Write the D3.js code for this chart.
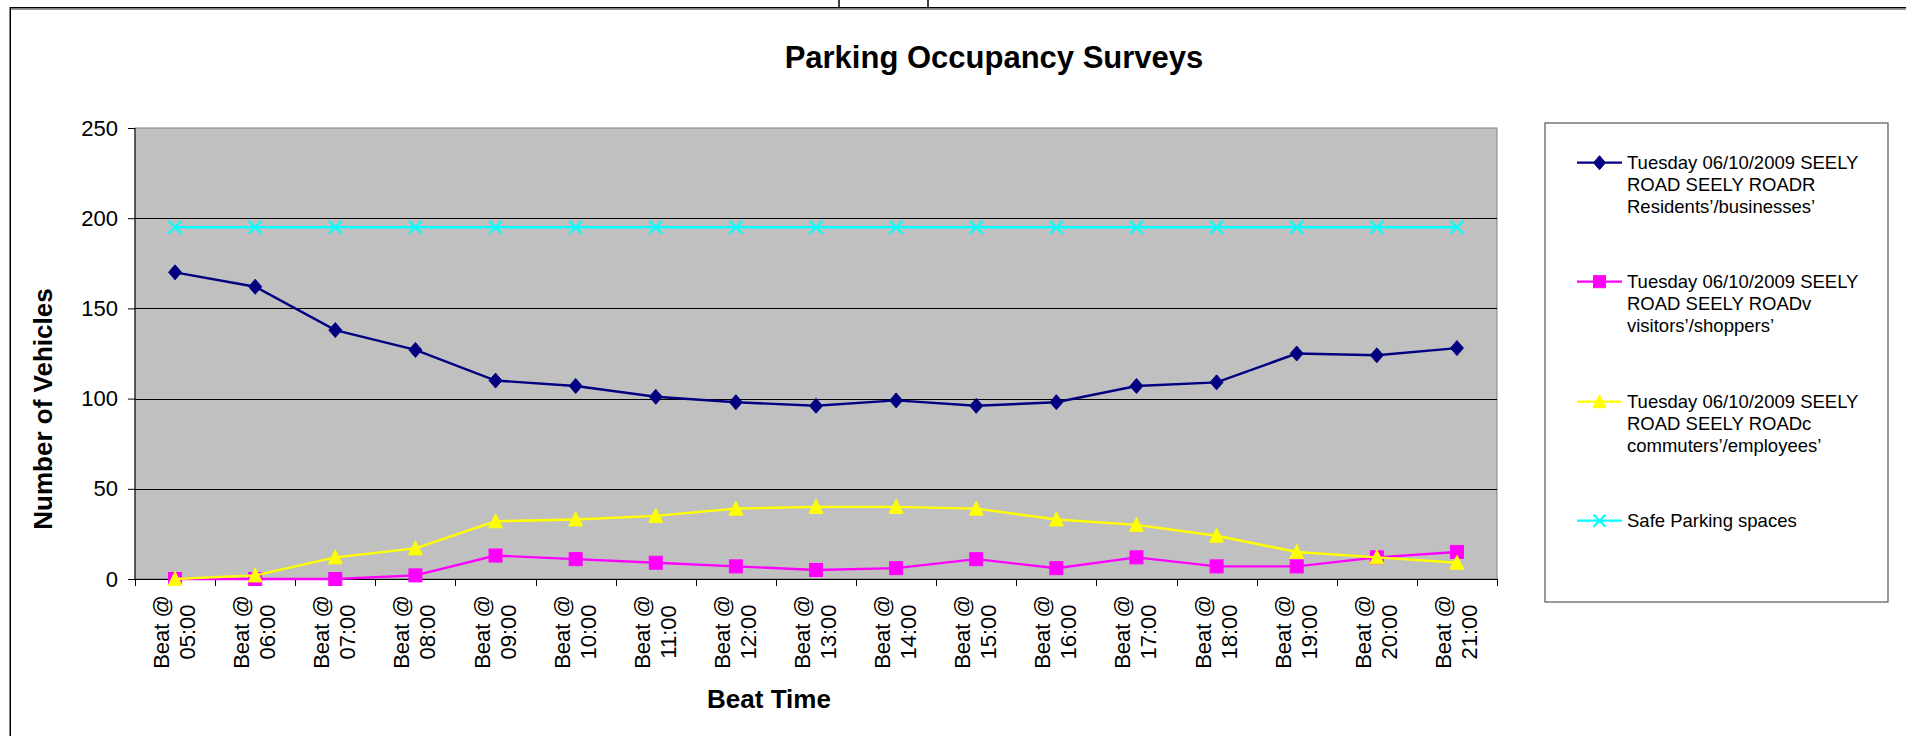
<!DOCTYPE html>
<html>
<head>
<meta charset="utf-8">
<script src="https://cdn.jsdelivr.net/npm/d3@7"></script>
<style>
  html, body { margin: 0; padding: 0; background: #ffffff; }
  svg { display: block; font-family: "Liberation Sans", Arial, sans-serif; }
</style>
</head>
<body>
<svg id="chart" width="1906" height="736"></svg>
<script>
// ---- data ----
const categories = ["Beat @ 05:00","Beat @ 06:00","Beat @ 07:00","Beat @ 08:00","Beat @ 09:00",
  "Beat @ 10:00","Beat @ 11:00","Beat @ 12:00","Beat @ 13:00","Beat @ 14:00","Beat @ 15:00",
  "Beat @ 16:00","Beat @ 17:00","Beat @ 18:00","Beat @ 19:00","Beat @ 20:00","Beat @ 21:00"];
const residents = [170,162,138,127,110,107,101,98,96,99,96,98,107,109,125,124,128];
const visitors  = [0,0,0,2,13,11,9,7,5,6,11,6,12,7,7,12,15];
const commuters = [0,2,12,17,32,33,35,39,40,40,39,33,30,24,15,12,9];
const safeSpaces = [195,195,195,195,195,195,195,195,195,195,195,195,195,195,195,195,195];
const yTicks = [0,50,100,150,200,250];
const seriesNames = [
  ["Tuesday 06/10/2009 SEELY","ROAD SEELY ROADR","Residents\u2019/businesses\u2019"],
  ["Tuesday 06/10/2009 SEELY","ROAD SEELY ROADv","visitors\u2019/shoppers\u2019"],
  ["Tuesday 06/10/2009 SEELY","ROAD SEELY ROADc","commuters\u2019/employees\u2019"],
  ["Safe Parking spaces"]
];
const seriesColors = ["#000080","#FF00FF","#FFFF00","#00FFFF"];
const seriesMarkers = ["diamond","square","triangle","x"];
const chartTitle = "Parking Occupancy Surveys";
const xTitle = "Beat Time";
const yTitle = "Number of Vehicles";

const series = [residents, visitors, commuters, safeSpaces];

const svg = d3.select("#chart");

// outer frame (partially off-screen)
svg.append("line").attr("x1",839).attr("x2",839).attr("y1",0).attr("y2",8).attr("stroke","#000").attr("stroke-width",1.5);
svg.append("line").attr("x1",928).attr("x2",928).attr("y1",0).attr("y2",8).attr("stroke","#000").attr("stroke-width",1.5);
svg.append("line").attr("x1",10).attr("x2",1906).attr("y1",7.75).attr("y2",7.75).attr("stroke","#000").attr("stroke-width",1.5);
svg.append("line").attr("x1",10).attr("x2",1906).attr("y1",9.5).attr("y2",9.5).attr("stroke","#999").attr("stroke-width",1);
svg.append("line").attr("x1",10.25).attr("x2",10.25).attr("y1",7).attr("y2",736).attr("stroke","#000").attr("stroke-width",1.5);

const plot = {left:135, right:1497, top:128, bottom:579};

const x = d3.scaleBand().domain(categories).range([plot.left, plot.right]).padding(0);
const y = d3.scaleLinear().domain([0,250]).range([plot.bottom, plot.top]);
const cx = c => x(c) + x.bandwidth()/2;

// plot background
svg.append("rect").attr("x",plot.left).attr("y",plot.top)
  .attr("width",plot.right-plot.left).attr("height",plot.bottom-plot.top)
  .attr("fill","#C0C0C0").attr("stroke","#808080").attr("stroke-width",1);

// gridlines
svg.append("g").selectAll("line").data(yTicks.filter(t => t>0 && t<250)).join("line")
  .attr("x1",plot.left).attr("x2",plot.right)
  .attr("y1",d => Math.round(y(d))+0.5).attr("y2",d => Math.round(y(d))+0.5)
  .attr("stroke","#000").attr("stroke-width",1);

// y axis
const yAxis = d3.axisLeft(y).tickValues(yTicks).tickSize(7).tickPadding(10);
const gy = svg.append("g").attr("transform",`translate(${plot.left},0)`).call(yAxis);
gy.select(".domain").attr("stroke","#000").attr("d",`M-0,${plot.top}V${plot.bottom}`);
gy.selectAll(".tick line").attr("stroke","#000");
gy.selectAll(".tick text").attr("font-size",22).attr("fill","#000")
  .attr("font-family","'Liberation Sans', Arial, sans-serif");

// x axis line and ticks at band boundaries
svg.append("line").attr("x1",plot.left).attr("x2",plot.right)
  .attr("y1",plot.bottom+0.5).attr("y2",plot.bottom+0.5).attr("stroke","#000").attr("stroke-width",1.2);
const bounds = categories.map(c => x(c)).concat([x(categories[categories.length-1]) + x.bandwidth()]);
svg.append("g").selectAll("line").data(bounds).join("line")
  .attr("x1",d => Math.round(d)+0.5).attr("x2",d => Math.round(d)+0.5)
  .attr("y1",plot.bottom).attr("y2",plot.bottom+7).attr("stroke","#000");

// category labels (rotated, two lines)
const catG = svg.append("g").selectAll("text").data(categories).join("text")
  .attr("transform",d => `translate(${cx(d)},632) rotate(-90)`)
  .attr("text-anchor","middle").attr("font-size",22).attr("fill","#000");
catG.each(function(d){
  const i = d.lastIndexOf(" ");
  const parts = [d.slice(0,i), d.slice(i+1)];
  const t = d3.select(this);
  t.append("tspan").attr("x",0).attr("y",-6).text(parts[0]);
  t.append("tspan").attr("x",0).attr("y",20).text(parts[1]);
});

// titles
svg.append("text").attr("x",994).attr("y",68).attr("text-anchor","middle")
  .attr("font-size",31).attr("font-weight","bold").text(chartTitle);
svg.append("text").attr("x",769).attr("y",708).attr("text-anchor","middle")
  .attr("font-size",26).attr("font-weight","bold").text(xTitle);
svg.append("text").attr("transform","translate(52,409) rotate(-90)").attr("text-anchor","middle")
  .attr("font-size",26).attr("font-weight","bold").text(yTitle);

// markers
function drawMarker(g, type, color, px, py, s) {
  const h = s/2;
  if (type === "diamond") {
    g.append("path").attr("d",`M${px},${py-h-1}L${px+h},${py}L${px},${py+h+1}L${px-h},${py}Z`)
      .attr("fill",color).attr("stroke",color).attr("stroke-width",1);
  } else if (type === "square") {
    g.append("rect").attr("x",px-h).attr("y",py-h).attr("width",s).attr("height",s)
      .attr("fill",color).attr("stroke",color).attr("stroke-width",1);
  } else if (type === "triangle") {
    g.append("path").attr("d",`M${px},${py-h-1}L${px+h+0.5},${py+h}L${px-h-0.5},${py+h}Z`)
      .attr("fill",color).attr("stroke",color).attr("stroke-width",1);
  } else {
    g.append("path").attr("d",`M${px-h},${py-h}L${px+h},${py+h}M${px+h},${py-h}L${px-h},${py+h}`)
      .attr("stroke",color).attr("stroke-width",2.2).attr("fill","none");
  }
}

const line = d3.line().x((d,i) => cx(categories[i])).y(d => y(d));
// draw order: safe spaces, residents, visitors, commuters
const order = [3,0,1,2];
order.forEach(si => {
  const g = svg.append("g");
  g.append("path").datum(series[si]).attr("d",line)
    .attr("fill","none").attr("stroke",seriesColors[si]).attr("stroke-width",2.4);
  series[si].forEach((v,i) => drawMarker(g, seriesMarkers[si], seriesColors[si], cx(categories[i]), y(v), 13));
});

// legend
const lg = svg.append("g");
lg.append("rect").attr("x",1545).attr("y",123).attr("width",343).attr("height",479)
  .attr("fill","#fff").attr("stroke","#555").attr("stroke-width",1.2);
const legendY = [162.7,281.7,401.7,520.7];
seriesNames.forEach((lines, si) => {
  const ly = legendY[si];
  lg.append("line").attr("x1",1577).attr("x2",1622).attr("y1",ly).attr("y2",ly)
    .attr("stroke",seriesColors[si]).attr("stroke-width",2.2);
  drawMarker(lg, seriesMarkers[si], seriesColors[si], 1599.5, ly, 12);
  const t = lg.append("text").attr("font-size",18.5).attr("fill","#000");
  lines.forEach((s,k) => t.append("tspan").attr("x",1627).attr("y",ly+6.7+k*21.6).text(s));
});
</script>
</body>
</html>
